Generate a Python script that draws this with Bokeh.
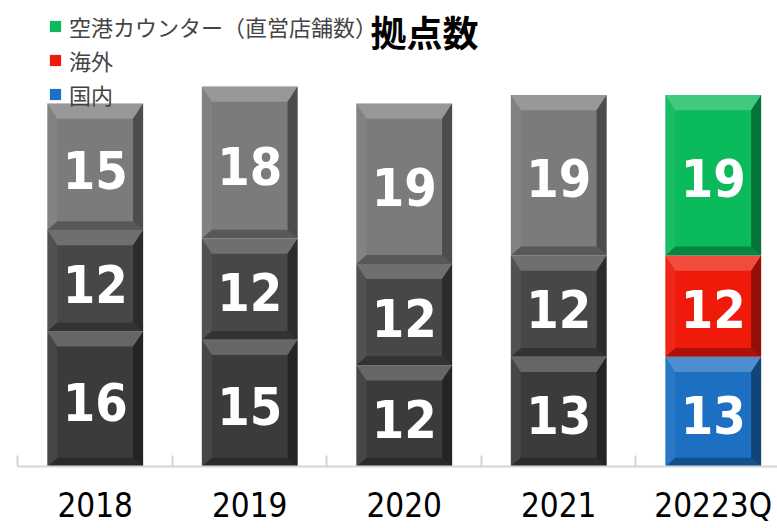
import numpy as np
from bokeh.plotting import figure
from bokeh.models import ColumnDataSource, Range1d, FixedTicker, Legend, LegendItem, Label
from bokeh.core.properties import value
from bokeh.embed import file_html
from bokeh.resources import INLINE

# ---- data ----
categories = ["2018", "2019", "2020", "2021", "20223Q"]
domestic = [16, 15, 12, 13, 13]      # 国内
overseas = [12, 12, 12, 12, 12]      # 海外
airport = [15, 18, 19, 19, 19]       # 空港カウンター（直営店舗数）
series_names = ["国内", "海外", "空港カウンター（直営店舗数）"]
series_colors = ["#1d6fc1", "#ef1a0a", "#0bba5b"]
gray_colors = ["#3b3b3b", "#474747", "#7b7b7b"]
title_text = "拠点数"

# ---- style ----
BAR_W = 0.62
BEVEL_X = 0.065
BEVEL_TOP = 1.8
BEVEL_BOTTOM = 1.05
NUM_FONT = "DejaVu Sans Condensed, DejaVu Sans"
JP_FONT = "Noto Sans CJK JP"

n = len(categories)
xs = np.arange(n) + 0.5

p = figure(width=777, height=528,
           x_range=Range1d(-0.113, 4.916), y_range=Range1d(0, 55.2),
           output_backend="svg", toolbar_location=None,
           y_axis_location=None,
           min_border_left=0, min_border_right=0, min_border_top=0,
           min_border_bottom=62)
p.xgrid.visible = False
p.ygrid.visible = False
p.outline_line_color = None
p.background_fill_color = "white"
p.border_fill_color = "white"

series = [domestic, overseas, airport]
bottom = np.zeros(n)
renderers = []
bevel_top_xs, bevel_top_ys = [], []
bevel_bot_xs, bevel_bot_ys = [], []
bevel_r_xs, bevel_r_ys = [], []
bevel_l_xs, bevel_l_ys = [], []
for k, vals in enumerate(series):
    vals = np.array(vals, dtype=float)
    top = bottom + vals
    colors = [gray_colors[k]] * (n - 1) + [series_colors[k]]
    src = ColumnDataSource(dict(x=xs, bottom=bottom.copy(), top=top.copy(),
                                color=colors, mid=(bottom + top) / 2,
                                label=[str(int(v)) for v in vals]))
    r = p.vbar(x="x", bottom="bottom", top="top", width=BAR_W,
               fill_color="color", line_color=None, source=src)
    renderers.append((r, src))
    for i in range(n):
        x0, x1 = xs[i] - BAR_W / 2, xs[i] + BAR_W / 2
        y0, y1 = bottom[i], top[i]
        bevel_top_xs.append([x0, x1, x1 - BEVEL_X, x0 + BEVEL_X])
        bevel_top_ys.append([y1, y1, y1 - BEVEL_TOP, y1 - BEVEL_TOP])
        bevel_bot_xs.append([x0, x1, x1 - BEVEL_X, x0 + BEVEL_X])
        bevel_bot_ys.append([y0, y0, y0 + BEVEL_BOTTOM, y0 + BEVEL_BOTTOM])
        bevel_r_xs.append([x1, x1, x1 - BEVEL_X, x1 - BEVEL_X])
        bevel_r_ys.append([y0, y1, y1 - BEVEL_TOP, y0 + BEVEL_BOTTOM])
        bevel_l_xs.append([x0, x0, x0 + BEVEL_X, x0 + BEVEL_X])
        bevel_l_ys.append([y0, y1, y1 - BEVEL_TOP, y0 + BEVEL_BOTTOM])
    bottom = top

p.patches(bevel_top_xs, bevel_top_ys, fill_color="white", fill_alpha=0.22, line_color=None)
p.patches(bevel_l_xs, bevel_l_ys, fill_color="white", fill_alpha=0.06, line_color=None)
p.patches(bevel_r_xs, bevel_r_ys, fill_color="black", fill_alpha=0.38, line_color=None)
p.patches(bevel_bot_xs, bevel_bot_ys, fill_color="black", fill_alpha=0.28, line_color=None)

for r, src in renderers:
    p.text(x="x", y="mid", text="label", source=src, text_color="white",
           text_font=value(NUM_FONT), text_font_style="bold", y_offset=3,
           text_font_size="52px", text_align="center", text_baseline="middle")

# x axis: category labels at bar centres, boundary ticks pointing up
ax = p.xaxis[0]
ax.ticker = FixedTicker(ticks=list(xs), minor_ticks=list(range(n + 1)))
ax.major_label_overrides = {float(x): c for x, c in zip(xs, categories)}
ax.bounds = (0, n)
ax.axis_line_color = "#d6d6d6"
ax.axis_line_width = 2
ax.major_tick_line_color = None
ax.major_tick_in = 0
ax.major_tick_out = 0
ax.minor_tick_in = 11
ax.minor_tick_out = 0
ax.minor_tick_line_color = "#d6d6d6"
ax.minor_tick_line_width = 2
ax.major_label_text_font = NUM_FONT
ax.major_label_text_font_size = "33px"
ax.major_label_text_color = "black"
ax.major_label_standoff = 19

# legend
items = [LegendItem(label=series_names[k], renderers=[renderers[k][0]], index=n - 1)
         for k in (2, 1, 0)]
legend = Legend(items=items, location=(48, 356), orientation="vertical",
                glyph_width=14, glyph_height=14, label_height=20,
                label_text_font=JP_FONT, label_text_font_size="22px",
                label_standoff=7, spacing=2, padding=0, margin=0,
                background_fill_alpha=0, border_line_color=None)
p.add_layout(legend)

title = Label(x=370, y=462, x_units="screen", y_units="screen", text=title_text,
              text_font=JP_FONT, text_font_style="bold", text_font_size="36px",
              text_baseline="top", text_align="left", text_color="black")
p.add_layout(title)

open("out.html", "w").write(file_html(p, INLINE))
